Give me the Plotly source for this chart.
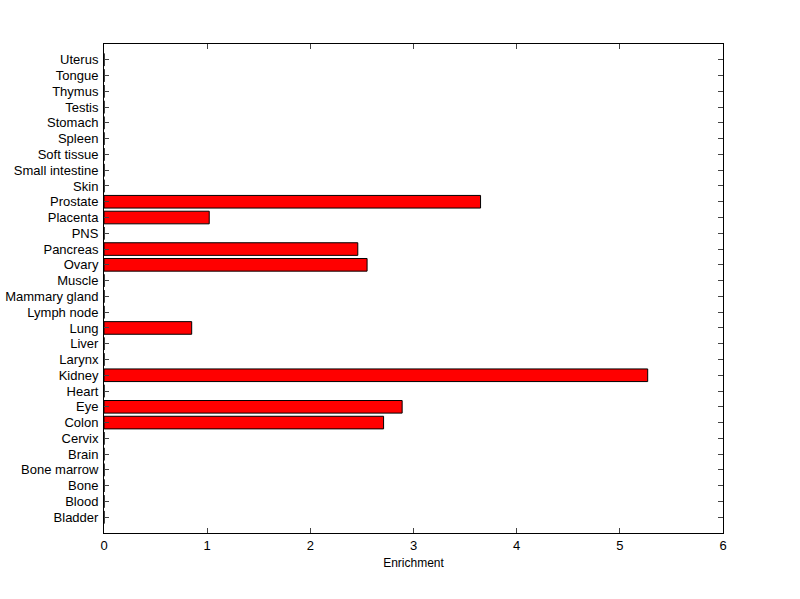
import plotly.graph_objects as go

tissues = ["Bladder", "Blood", "Bone", "Bone marrow", "Brain", "Cervix", "Colon", "Eye",
           "Heart", "Kidney", "Larynx", "Liver", "Lung", "Lymph node", "Mammary gland",
           "Muscle", "Ovary", "Pancreas", "PNS", "Placenta", "Prostate", "Skin",
           "Small intestine", "Soft tissue", "Spleen", "Stomach", "Testis", "Thymus",
           "Tongue", "Uterus"]
enrichment = [0, 0, 0, 0, 0, 0, 2.71, 2.89,
              0, 5.27, 0, 0, 0.85, 0, 0,
              0, 2.55, 2.46, 0, 1.02, 3.65, 0,
              0, 0, 0, 0, 0, 0,
              0, 0]
x_ticks = [0, 1, 2, 3, 4, 5, 6]

fig = go.Figure(go.Bar(
    x=enrichment, y=tissues, orientation="h",
    marker=dict(color="#ff0000", line=dict(color="black", width=1)),
    width=0.8,
))

fig.update_layout(
    width=800, height=599,
    margin=dict(l=104, r=77, t=44, b=66),
    plot_bgcolor="white", paper_bgcolor="white",
    font=dict(family="Liberation Sans, Arial, sans-serif", size=13, color="black"),
    showlegend=False,
    xaxis=dict(range=[0, 6], tickvals=x_ticks, ticks="inside", ticklen=5,
               showline=True, linecolor="black", linewidth=1, mirror="ticks",
               showgrid=False, zeroline=False, automargin=False,
               title=dict(text="Enrichment", font=dict(size=12), standoff=7)),
    yaxis=dict(type="category", categoryorder="array", categoryarray=tissues,
               tickmode="array", tickvals=tissues, ticktext=tissues,
               range=[-1, 30], ticks="inside", ticklen=5, automargin=False,
               showline=True, linecolor="black", linewidth=1, mirror="ticks",
               showgrid=False, zeroline=False, ticklabelstandoff=2),
)

fig.write_html("out.html", config={"displayModeBar": False},
               post_script="document.body.style.margin='0';")
